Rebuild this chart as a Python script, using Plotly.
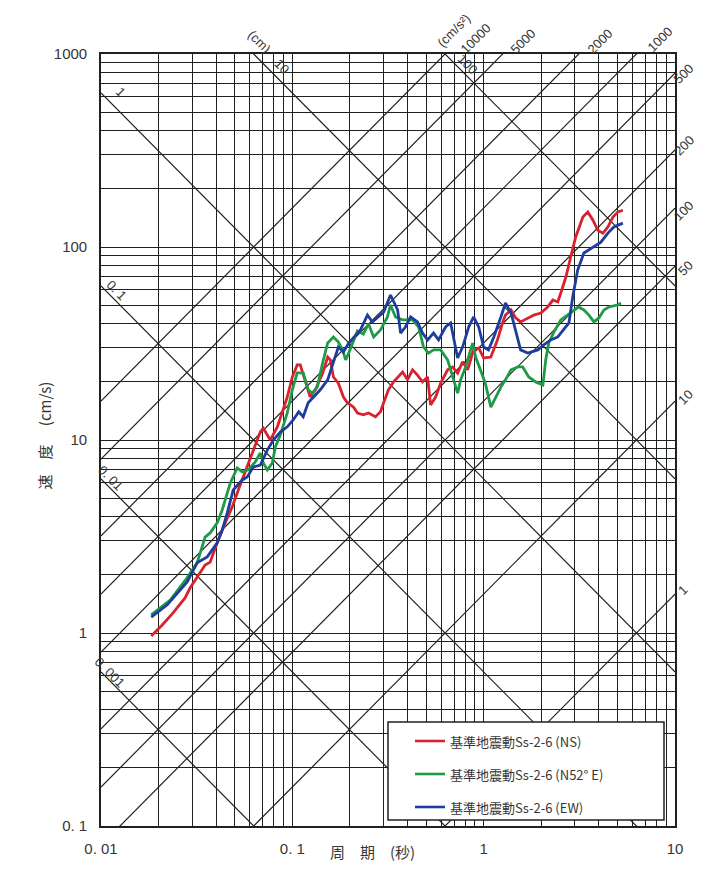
import math
import plotly.graph_objects as go

# ------------------------------------------------------------
# Tripartite response spectrum, Ss-2-6
# period in s, pseudo-velocity in cm/s
# ------------------------------------------------------------

T_NS = [0.0183, 0.0209, 0.0238, 0.0275, 0.0292, 0.0318, 0.0350, 0.0372, 0.0410, 0.0457,
        0.0485, 0.0522, 0.0581, 0.0625, 0.0680, 0.0705, 0.0767, 0.0835, 0.0886, 0.0941,
        0.100, 0.106, 0.110, 0.117, 0.124, 0.132, 0.144, 0.153, 0.158, 0.164,
        0.174, 0.185, 0.194, 0.209, 0.219, 0.235, 0.250, 0.272, 0.289, 0.300,
        0.318, 0.338, 0.355, 0.377, 0.400, 0.425, 0.451, 0.479, 0.509, 0.528,
        0.561, 0.596, 0.648, 0.688, 0.731, 0.776, 0.825, 0.855, 0.886, 0.942,
        1.00, 1.09, 1.18, 1.26, 1.30, 1.39, 1.47, 1.56, 1.70, 1.83,
        1.99, 2.16, 2.30, 2.44, 2.53, 2.69, 2.85, 3.03, 3.30, 3.50,
        3.72, 3.95, 4.20, 4.46, 4.74, 5.03, 5.34]
V_NS = [0.965, 1.10, 1.27, 1.52, 1.71, 1.95, 2.25, 2.33, 3.03, 3.94,
        4.50, 5.51, 7.24, 8.87, 11.0, 11.5, 10.0, 11.7, 13.8, 16.7,
        21.2, 24.5, 24.5, 20.0, 16.7, 18.2, 22.2, 26.9, 26.0, 21.2,
        19.7, 16.7, 15.6, 14.8, 13.8, 13.5, 13.8, 13.2, 14.0, 15.6,
        18.2, 20.0, 21.2, 22.5, 20.5, 23.1, 21.7, 20.0, 21.2, 15.2,
        16.7, 19.7, 23.1, 23.9, 22.2, 25.4, 23.1, 26.0, 29.3, 30.0,
        26.6, 26.9, 33.0, 40.9, 44.4, 47.2, 42.9, 40.9, 42.9, 44.4,
        45.5, 48.9, 53.1, 51.9, 57.8, 69.9, 88.8, 113, 143, 152,
        138, 122, 118, 127, 143, 152, 155]

T_N52E = [0.0183, 0.0230, 0.0282, 0.0318, 0.0350, 0.0372, 0.0405, 0.0430, 0.0474, 0.0515,
          0.0547, 0.0588, 0.0640, 0.0680, 0.0705, 0.0740, 0.0786, 0.0815, 0.0865, 0.0941,
          0.100, 0.106, 0.114, 0.121, 0.127, 0.135, 0.144, 0.153, 0.164, 0.174,
          0.183, 0.190, 0.197, 0.209, 0.219, 0.235, 0.250, 0.266, 0.289, 0.314,
          0.326, 0.346, 0.377, 0.425, 0.457, 0.485, 0.515, 0.547, 0.596, 0.648,
          0.688, 0.731, 0.758, 0.805, 0.855, 0.876, 0.908, 0.965, 1.02, 1.09,
          1.16, 1.23, 1.30, 1.39, 1.51, 1.60, 1.72, 1.87, 2.04, 2.11,
          2.19, 2.33, 2.53, 2.75, 2.96, 3.14, 3.34, 3.55, 3.77, 4.00,
          4.25, 4.51, 5.03, 5.22]
V_N52E = [1.24, 1.48, 1.93, 2.31, 3.14, 3.30, 3.72, 4.34, 5.99, 7.16,
          6.83, 7.00, 7.69, 8.56, 7.60, 7.00, 7.60, 9.20, 10.6, 13.8,
          18.2, 22.3, 22.3, 18.2, 17.5, 18.8, 25.1, 31.8, 34.2, 32.2,
          29.3, 26.0, 28.2, 33.0, 36.7, 35.4, 40.0, 34.2, 37.2, 43.4,
          50.1, 43.4, 41.9, 41.9, 38.5, 30.3, 28.2, 29.3, 29.3, 26.0,
          21.2, 17.5, 20.5, 23.9, 29.3, 31.8, 26.9, 23.1, 19.7, 14.8,
          16.7, 18.8, 20.5, 23.1, 23.9, 23.9, 21.2, 20.0, 19.3, 26.0,
          31.8, 36.3, 41.9, 44.4, 47.2, 48.9, 47.2, 44.4, 40.9, 42.9,
          47.2, 48.9, 50.1, 51.3]

T_EW = [0.0183, 0.0222, 0.0282, 0.0318, 0.0359, 0.0405, 0.0430, 0.0457, 0.0491, 0.0547,
        0.0581, 0.0625, 0.0680, 0.0740, 0.0796, 0.0865, 0.0941, 0.101, 0.108, 0.114,
        0.121, 0.129, 0.140, 0.153, 0.164, 0.174, 0.185, 0.197, 0.227, 0.247,
        0.262, 0.279, 0.300, 0.326, 0.355, 0.368, 0.390, 0.415, 0.451, 0.479,
        0.509, 0.547, 0.581, 0.632, 0.672, 0.731, 0.776, 0.835, 0.886, 0.942,
        1.00, 1.06, 1.13, 1.23, 1.30, 1.39, 1.47, 1.56, 1.70, 1.92,
        2.06, 2.24, 2.44, 2.62, 2.79, 2.92, 3.10, 3.34, 3.77, 4.10,
        4.46, 4.79, 5.34]
V_EW = [1.21, 1.40, 1.84, 2.31, 2.48, 2.93, 3.42, 4.19, 5.51, 6.21,
        6.43, 7.24, 7.42, 8.87, 10.0, 11.0, 11.7, 12.7, 14.0, 13.2,
        15.6, 16.7, 18.2, 20.5, 25.1, 30.3, 28.6, 31.8, 37.2, 44.4,
        40.9, 43.4, 46.0, 56.4, 47.2, 35.8, 38.5, 43.4, 40.9, 35.8,
        33.0, 35.8, 33.0, 38.5, 40.4, 26.6, 30.3, 38.5, 43.4, 38.5,
        30.3, 29.3, 34.2, 43.4, 51.3, 45.5, 37.2, 29.3, 28.2, 29.3,
        31.1, 33.0, 34.2, 37.2, 40.4, 55.1, 76.0, 93.1, 100, 106,
        118, 127, 133]

SERIES = ["基準地震動Ss-2-6 (NS)", "基準地震動Ss-2-6 (N52° E)", "基準地震動Ss-2-6 (EW)"]
COLORS = ["#d8232f", "#1f9a47", "#1e3d9c"]

ACC_LINES = [1, 10, 50, 100, 200, 500, 1000, 2000, 5000, 10000]   # cm/s2
DISP_LINES = [0.001, 0.01, 0.1, 1, 10, 100]                        # cm

X_DECADES = [0.01, 0.1, 1, 10]
X_DECADE_TEXT = ["0. 01", "0. 1", "1", "10"]
Y_DECADES = [0.1, 1, 10, 100, 1000]
Y_DECADE_TEXT = ["0. 1", "1", "10", "100", "1000"]

# ------------------------------------------------------------
# page is 704x883; the browser body keeps an 8 px margin, so the figure is smaller
OFF = 8
W, H = 704 - 2 * OFF, 883 - 2 * OFF
PL, PR, PT, PB = 101, 675, 54, 826          # plot area in page pixels
L, R, TOP, B = PL - OFF, W + OFF - PR, PT - OFF, H + OFF - PB
GRID = "#1e221e"
TXT = "#363636"
NUM_FONT = "Liberation Sans Narrow, Liberation Sans, Arial, sans-serif"
JP_FONT = "Noto Sans CJK JP, sans-serif"


def px_x(px):
    return (px - PL) / (PR - PL)


def px_y(py):
    return (PB - py) / (PB - PT)


def log_grid(lo_exp, hi_exp):
    vals = [m * 10.0 ** k for k in range(lo_exp, hi_exp) for m in range(1, 10)]
    return vals + [10.0 ** hi_exp]


def grid_text(vals, decades, texts):
    out = []
    for v in vals:
        lab = ""
        for d, t in zip(decades, texts):
            if abs(v - d) / d < 1e-6:
                lab = t
        out.append(lab)
    return out


fig = go.Figure()

# diagonal lines: constant acceleration (slope +1) and constant displacement (slope -1)
T_ENDS = [0.01, 10]
acc_x, acc_y = [], []
for a in ACC_LINES:
    acc_x += T_ENDS + [None]
    acc_y += [a * t / (2 * math.pi) for t in T_ENDS] + [None]
disp_x, disp_y = [], []
for d in DISP_LINES:
    disp_x += T_ENDS + [None]
    disp_y += [2 * math.pi * d / t for t in T_ENDS] + [None]

for xs, ys in [(acc_x, acc_y), (disp_x, disp_y)]:
    fig.add_trace(go.Scatter(x=xs, y=ys, mode="lines", line=dict(color=GRID, width=1.2),
                             hoverinfo="skip", showlegend=False))

for name, tt, vv, col in zip(SERIES, [T_NS, T_N52E, T_EW], [V_NS, V_N52E, V_EW], COLORS):
    assert len(tt) == len(vv)
    fig.add_trace(go.Scatter(x=tt, y=vv, mode="lines", name=name,
                             line=dict(color=col, width=2.8), showlegend=False))

xg = log_grid(-2, 1)
yg = log_grid(-1, 3)

fig.update_xaxes(
    type="log", range=[-2, 1],
    tickmode="array", tickvals=xg, ticktext=grid_text(xg, X_DECADES, X_DECADE_TEXT),
    showgrid=True, gridcolor=GRID, gridwidth=1.2,
    showline=True, mirror=True, linecolor=GRID, linewidth=1.6,
    ticks="", ticklabelstandoff=8, zeroline=False,
    tickfont=dict(family=NUM_FONT, size=15, color=TXT),
)
fig.update_yaxes(
    type="log", range=[-1, 3],
    tickmode="array", tickvals=yg, ticktext=grid_text(yg, Y_DECADES, Y_DECADE_TEXT),
    showgrid=True, gridcolor=GRID, gridwidth=1.2,
    showline=True, mirror=True, linecolor=GRID, linewidth=1.6,
    ticks="", ticklabelstandoff=9, zeroline=False,
    tickfont=dict(family=NUM_FONT, size=15, color=TXT),
)

ann = []
# labels of the diagonal scales (page pixel positions)
diag_labels = [
    ("(cm)", 259, 42, 45), ("10", 282, 66, 45), ("100", 468, 64, 45),
    ("1", 120, 92, 45), ("0. 1", 117, 290, 45), ("0. 01", 110, 478, 45), ("0. 001", 110, 672, 45),
    ("(cm/s²)", 454, 31, -45), ("10000", 476, 39, -45), ("5000", 523, 42, -45),
    ("2000", 600, 42, -45), ("1000", 660, 40, -45),
    ("500", 684, 74, -45), ("200", 684, 145, -45), ("100", 684, 211, -45),
    ("50", 685, 268, -45), ("10", 685, 397, -45), ("1", 682, 590, -45),
]
for text, px, py, ang in diag_labels:
    ann.append(dict(text=text, x=px_x(px), y=px_y(py), xref="paper", yref="paper",
                    showarrow=False, textangle=ang, xanchor="center", yanchor="middle",
                    font=dict(family=NUM_FONT, size=13, color=TXT)))

# axis titles
ann.append(dict(text="周　期　(秒)", x=px_x(372), y=px_y(864), xref="paper", yref="paper",
                showarrow=False, font=dict(family=JP_FONT, size=15, color=TXT)))
ann.append(dict(text="速　度　 (cm/s)", x=px_x(31), y=px_y(436), xref="paper", yref="paper",
                showarrow=False, textangle=-90, font=dict(family=JP_FONT, size=15, color=TXT)))

# legend box drawn by hand
shapes = [dict(type="rect", xref="paper", yref="paper", layer="above",
               x0=px_x(388), x1=px_x(664), y0=px_y(820), y1=px_y(722),
               fillcolor="white", line=dict(color=GRID, width=1.5))]
for i, (name, col) in enumerate(zip(SERIES, COLORS)):
    yy = 741 + i * 33
    shapes.append(dict(type="line", xref="paper", yref="paper", layer="above",
                       x0=px_x(415), x1=px_x(445), y0=px_y(yy), y1=px_y(yy),
                       line=dict(color=col, width=2.6)))
    ann.append(dict(text=name, x=px_x(448), y=px_y(yy), xref="paper", yref="paper",
                    showarrow=False, xanchor="left", yanchor="middle",
                    font=dict(family=JP_FONT, size=13, color=TXT)))

fig.update_layout(
    width=W, height=H,
    margin=dict(l=L, r=R, t=TOP, b=B),
    paper_bgcolor="white", plot_bgcolor="white",
    annotations=ann, shapes=shapes,
    showlegend=False,
)

fig.write_html("out.html")
